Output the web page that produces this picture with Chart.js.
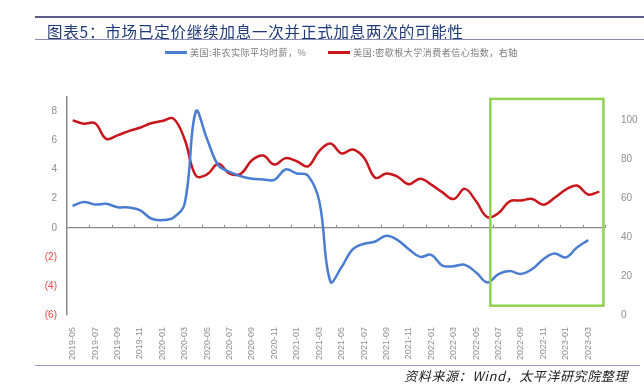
<!DOCTYPE html>
<html lang="zh-CN">
<head>
  <meta charset="UTF-8">
  <title>图表5</title>
  <script src="https://cdn.jsdelivr.net/npm/chart.js@4.4.0/dist/chart.umd.min.js"></script>
  <style>
    body { margin: 0; background: #fff; }
    #wrap { position: relative; width: 644px; height: 392px; overflow: hidden; font-family: "Noto Sans CJK SC", sans-serif; }
    #c { position: absolute; left: 0; top: 0; }
    .rule { position: absolute; left: 35px; right: 0; }
    #title { position: absolute; left: 47px; top: 20px; font-size: 15.5px; color: #1f3a78; letter-spacing: 0.8px; line-height: 22px; white-space: nowrap; }
    #legend { position: absolute; left: 165px; top: 46px; font-size: 9px; color: #7a7a7a; letter-spacing: 0.5px; white-space: nowrap; line-height: 14px; }
    #legend span.item { display: inline-block; margin-right: 22px; }
    #legend i { display: inline-block; width: 22px; height: 3px; vertical-align: middle; margin-right: 3px; position: relative; top: -1px; }
    #footer { position: absolute; right: 16px; top: 366px; font-size: 13px; letter-spacing: 0.6px; font-style: italic; color: #222; white-space: nowrap; }
  </style>
</head>
<body>
<div id="wrap">
  <canvas id="c" width="644" height="392"></canvas>
  <div class="rule" style="top:16px;height:2px;background:#5b5b8e;"></div>
  <div id="title">图表5：市场已定价继续加息一次并正式加息两次的可能性</div>
  <div class="rule" style="top:39px;height:1px;background:#8e8eb4;"></div>
  <div id="legend"></div>
  <div class="rule" style="top:365px;right:4px;height:1px;background:#9c9cc2;"></div>
  <div id="footer">资料来源：Wind，太平洋研究院整理</div>
</div>
<script>
  // 月度类目 2019-05 ~ 2023-04
  const months = [
    '2019-05','2019-06','2019-07','2019-08','2019-09','2019-10','2019-11','2019-12',
    '2020-01','2020-02','2020-03','2020-04','2020-05','2020-06','2020-07','2020-08',
    '2020-09','2020-10','2020-11','2020-12','2021-01','2021-02','2021-03','2021-04',
    '2021-05','2021-06','2021-07','2021-08','2021-09','2021-10','2021-11','2021-12',
    '2022-01','2022-02','2022-03','2022-04','2022-05','2022-06','2022-07','2022-08',
    '2022-09','2022-10','2022-11','2022-12','2023-01','2023-02','2023-03','2023-04'
  ];

  const wageName = '美国:非农实际平均时薪，%';
  const sentimentName = '美国:密歇根大学消费者信心指数，右轴';

  // 左轴：实际平均时薪同比
  const realWage = [
    1.5, 1.78, 1.6, 1.65, 1.42, 1.4, 1.22, 0.64, 0.53, 0.71, 1.67, 8.0,
    6.1, 4.3, 3.85, 3.55, 3.37, 3.33, 3.3, 4.01, 3.74, 3.58, 1.86, -3.7,
    -2.7, -1.47, -1.1, -0.94, -0.55, -0.85, -1.47, -2.0, -1.86, -2.6, -2.64, -2.55,
    -3.07, -3.76, -3.19, -2.98, -3.17, -2.84, -2.16, -1.77, -2.04, -1.35, -0.85, null
  ];

  // 右轴：密歇根大学消费者信心指数
  const sentiment = [
    100, 98.3, 98.5, 90.5, 92.3, 94.5, 96.2, 98.5, 99.7, 100.9, 90.2, 71.6,
    72.2, 77.7, 72.7, 72.5, 79.5, 81.9, 77.3, 80.6, 79, 76.4, 84.2, 88.1,
    83, 85, 80.8, 70.5, 72.7, 71, 67.2, 70, 67, 63, 59.6, 64.8,
    58.4, 50.3, 52.4, 58.4, 58.8, 59.6, 56.7, 60.2, 64.4, 66.5, 61.9, 63.4
  ];

  const leftTicks = { min: -6, max: 9, step: 2, lastLabel: 8 };
  const rightTicks = { min: 0, max: 112, step: 20, lastLabel: 100 };

  // 绿色框：类目索引范围与左轴数值范围
  const highlight = { from: 37.27, to: 47.36, top: 8.87, bottom: -5.36 };

  const blue = '#4a7dd2';
  const red = '#c8161d';

  // 图例
  document.getElementById('legend').innerHTML =
    '<span class="item"><i style="background:' + blue + '"></i>' + wageName + '</span>' +
    '<span class="item"><i style="background:' + red + '"></i>' + sentimentName + '</span>';

  // 零轴上的小刻度 + 绿色框
  const extras = {
    id: 'extras',
    afterDraw(chart) {
      const { ctx, scales: { x, y } } = chart;
      const y0 = y.getPixelForValue(0);
      ctx.save();
      ctx.strokeStyle = '#8a8a8a';
      ctx.lineWidth = 1;
      for (let k = 1; k < months.length; k += 2) {
        const px = Math.round(x.getPixelForValue(k + 0.5)) + 0.5;
        ctx.beginPath();
        ctx.moveTo(px, y0 - 3);
        ctx.lineTo(px, y0);
        ctx.stroke();
      }
      const bx1 = x.getPixelForValue(highlight.from);
      const bx2 = x.getPixelForValue(highlight.to);
      const by1 = y.getPixelForValue(highlight.top);
      const by2 = y.getPixelForValue(highlight.bottom);
      ctx.strokeStyle = '#92d050';
      ctx.lineWidth = 2.5;
      ctx.strokeRect(bx1, by1, bx2 - bx1, by2 - by1);
      ctx.restore();
    }
  };

  new Chart(document.getElementById('c'), {
    type: 'line',
    data: {
      labels: months,
      datasets: [
        {
          label: wageName,
          data: realWage,
          yAxisID: 'y',
          borderColor: blue,
          borderWidth: 2.5,
          pointRadius: 0,
          tension: 0.4,
          clip: false,
          fill: false
        },
        {
          label: sentimentName,
          data: sentiment,
          yAxisID: 'y1',
          borderColor: red,
          borderWidth: 2.5,
          pointRadius: 0,
          tension: 0.4,
          clip: false,
          fill: false
        }
      ]
    },
    options: {
      responsive: false,
      animation: false,
      layout: { padding: { top: 97, left: 0, right: 0, bottom: 0 } },
      plugins: { legend: { display: false }, tooltip: { enabled: false } },
      scales: {
        x: {
          offset: true,
          grid: { display: false },
          border: { display: false },
          ticks: {
            autoSkip: false,
            minRotation: 90,
            maxRotation: 90,
            padding: 4,
            color: '#8f8f8f',
            font: { family: 'Liberation Sans', size: 9 },
            callback: (v, i) => (i % 2 === 0 ? months[i] : '')
          },
          afterFit: (s) => { s.height = 77; }
        },
        y: {
          position: 'left',
          min: leftTicks.min,
          max: leftTicks.max,
          grid: {
            drawTicks: false,
            color: (c) => (c.tick && c.tick.value === 0 ? '#8a8a8a' : 'rgba(0,0,0,0)'),
            lineWidth: 1.2
          },
          border: { display: true, color: '#8a8a8a', width: 1.5 },
          ticks: {
            stepSize: leftTicks.step,
            padding: 10,
            font: { family: 'Liberation Sans', size: 10 },
            color: (c) => (c.tick.value < 0 ? '#f04545' : '#8f8f8f'),
            callback: (v) => (v > leftTicks.lastLabel ? '' : v < 0 ? '(' + (-v) + ')' : v)
          },
          afterFit: (s) => { s.width = 67; }
        },
        y1: {
          position: 'right',
          min: rightTicks.min,
          max: rightTicks.max,
          grid: { display: false, drawOnChartArea: false },
          border: { display: false },
          ticks: {
            stepSize: rightTicks.step,
            padding: 8,
            font: { family: 'Liberation Sans', size: 10 },
            color: '#8f8f8f',
            callback: (v) => (v > rightTicks.lastLabel ? '' : v)
          },
          afterFit: (s) => { s.width = 39; }
        }
      }
    },
    plugins: [extras]
  });
</script>
</body>
</html>
